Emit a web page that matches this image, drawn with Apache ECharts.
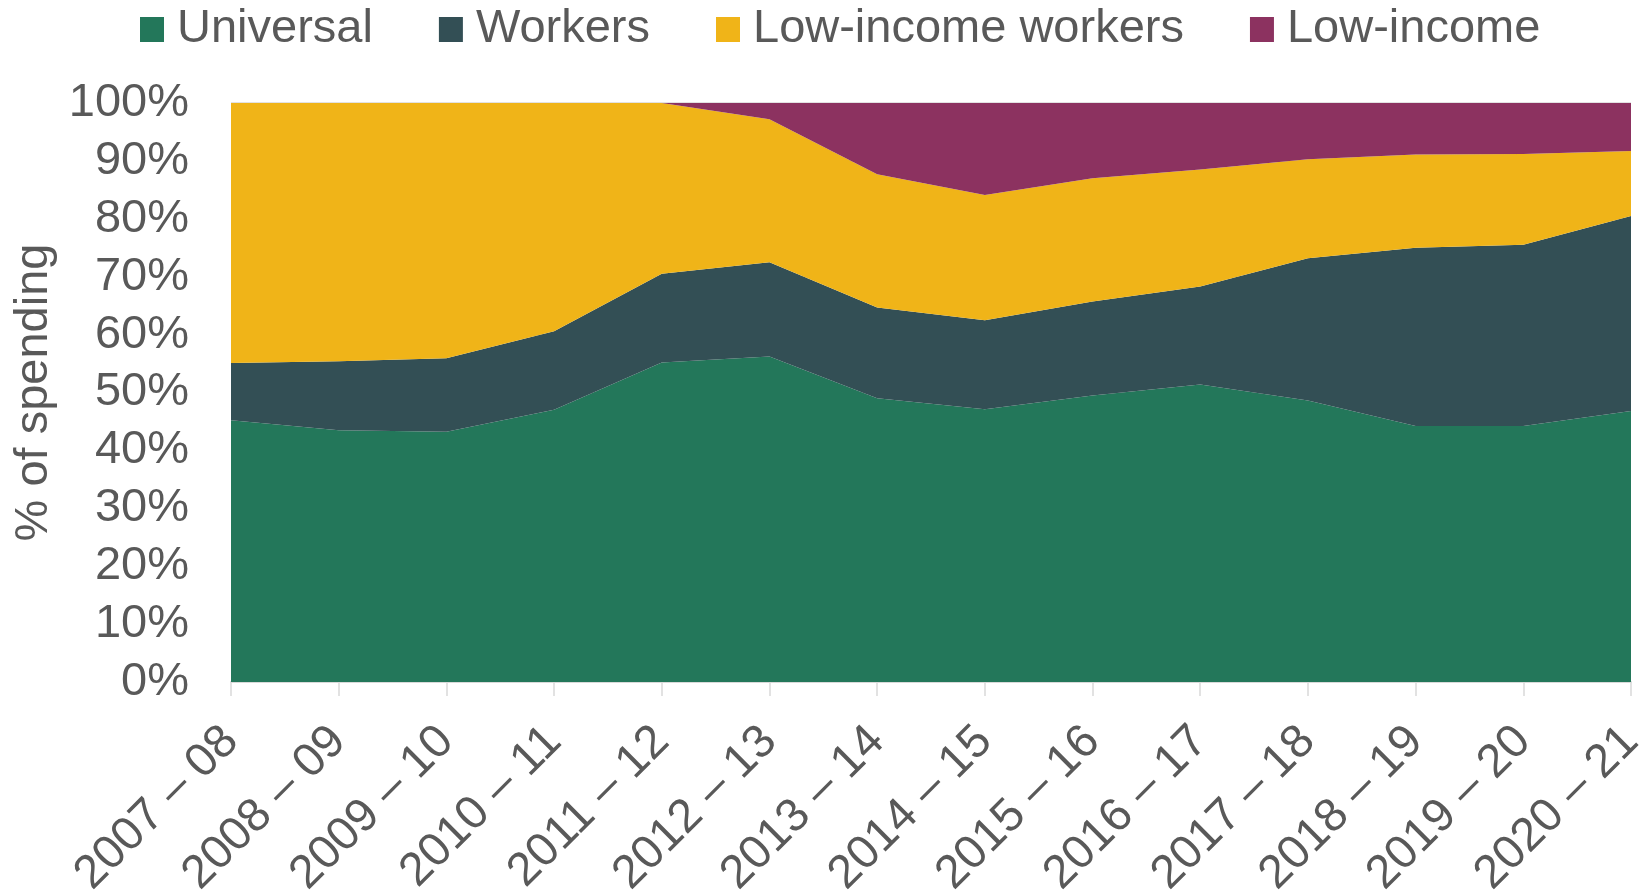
<!DOCTYPE html>
<html>
<head>
<meta charset="utf-8">
<script src="https://cdn.jsdelivr.net/npm/echarts@6/dist/echarts.min.js"></script>
<style>html,body{margin:0;padding:0;background:#fff}#c{width:1645px;height:896px}</style>
</head>
<body>
<div id="c"></div>
<script>
const categories = ['2007 – 08','2008 – 09','2009 – 10','2010 – 11','2011 – 12','2012 – 13','2013 – 14','2014 – 15','2015 – 16','2016 – 17','2017 – 18','2018 – 19','2019 – 20','2020 – 21'];
const universal = [45.2, 43.5, 43.2, 47.0, 55.2, 56.2, 49.0, 47.1, 49.5, 51.4, 48.6, 44.2, 44.2, 46.8];
const workers = [9.9, 11.9, 12.7, 13.6, 15.3, 16.3, 15.7, 15.4, 16.2, 16.9, 24.6, 30.8, 31.3, 33.7];
const lowIncomeWorkers = [44.9, 44.6, 44.1, 39.4, 29.5, 24.7, 23.0, 21.6, 21.3, 20.2, 17.1, 16.1, 15.7, 11.2];
const lowIncome = [0, 0, 0, 0, 0, 2.8, 12.3, 15.9, 13.0, 11.5, 9.7, 8.9, 8.8, 8.3];
const yTicks = [0, 10, 20, 30, 40, 50, 60, 70, 80, 90, 100];

const names = ['Universal', 'Workers', 'Low-income workers', 'Low-income'];
const colors = ['#23775A', '#334F55', '#F0B418', '#8C3260'];
const values = [universal, workers, lowIncomeWorkers, lowIncome];
const font = '"Liberation Sans", Arial, sans-serif';
const txt = '#595959';

const chart = echarts.init(document.getElementById('c'), null, {renderer: 'canvas'});
chart.setOption({
  animation: false,
  color: colors,
  textStyle: {fontFamily: font},
  legend: {
    top: 1, left: 135,
    itemWidth: 24, itemHeight: 25, itemGap: 66,
    icon: 'rect',
    textStyle: {fontSize: 47, color: txt, fontFamily: font, padding: [0, 0, 0, 8]},
    data: names
  },
  grid: {left: 231, right: 14, top: 103, bottom: 214, outerBoundsMode: 'none', containLabel: false},
  xAxis: {
    type: 'category', boundaryGap: false, data: categories,
    axisLine: {lineStyle: {color: '#D9D9D9', width: 2}},
    axisTick: {show: true, length: 14, lineStyle: {color: '#D9D9D9', width: 1.5}},
    axisLabel: {rotate: 45, fontSize: 47, color: txt, margin: 52, fontFamily: font, interval: 0}
  },
  yAxis: {
    type: 'value', min: yTicks[0], max: yTicks[yTicks.length - 1], interval: 10,
    name: '% of spending', nameLocation: 'middle', nameGap: 167, nameRotate: 90,
    nameTextStyle: {fontSize: 47, color: txt, fontFamily: font},
    axisLine: {show: false}, axisTick: {show: false},
    splitLine: {show: true, lineStyle: {color: '#D9D9D9', width: 1.5}},
    axisLabel: {formatter: '{value}%', fontSize: 47, color: txt, margin: 42, fontFamily: font}
  },
  series: names.map((n, i) => ({
    name: n, type: 'line', stack: 'total', data: values[i],
    showSymbol: false, symbol: 'none',
    lineStyle: {width: 0},
    areaStyle: {color: colors[i], opacity: 1},
    itemStyle: {color: colors[i]}
  }))
});
</script>
</body>
</html>
